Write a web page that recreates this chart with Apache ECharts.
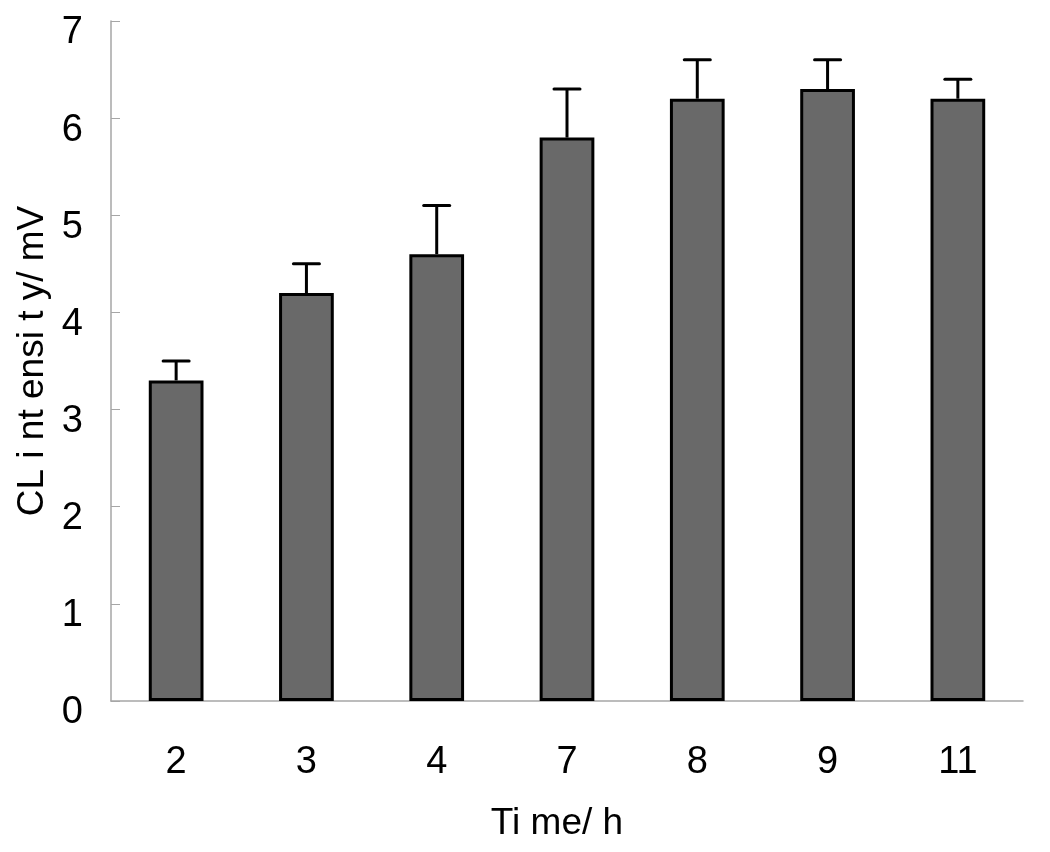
<!DOCTYPE html>
<html>
<head>
<meta charset="utf-8">
<script src="https://cdn.jsdelivr.net/npm/echarts@6/dist/echarts.min.js"></script>
<style>
html,body{margin:0;padding:0;background:#fff;}
#chart{width:1050px;height:852px;}
</style>
</head>
<body>
<div id="chart"></div>
<script>
const categories = ['2', '3', '4', '7', '8', '9', '11'];
const means = [3.3, 4.2, 4.6, 5.8, 6.2, 6.3, 6.2];
const errors = [0.2, 0.3, 0.5, 0.5, 0.4, 0.3, 0.2];
const yTicks = [0, 1, 2, 3, 4, 5, 6, 7];

const errData = categories.map((c, i) => [i, means[i], means[i] + errors[i]]);
const font = '"Liberation Sans", Arial, sans-serif';

const chart = echarts.init(document.getElementById('chart'));
chart.setOption({
  animation: false,
  backgroundColor: '#ffffff',
  grid: { left: 111, top: 21, right: 27, bottom: 151 },
  xAxis: {
    type: 'category',
    data: categories,
    name: 'Ti me/ h',
    nameLocation: 'middle',
    nameGap: 104,
    nameTextStyle: { fontFamily: font, fontSize: 37, color: '#000', padding: [0, 20, 0, 0] },
    axisLine: { lineStyle: { color: '#a6a6a6', width: 1.5 } },
    axisTick: { inside: true, length: 10, lineStyle: { color: '#a6a6a6', width: 1 } },
    axisLabel: { margin: 43, fontFamily: font, fontSize: 38, color: '#000' },
    splitLine: { show: false }
  },
  yAxis: {
    type: 'value',
    min: yTicks[0],
    max: yTicks[yTicks.length - 1],
    interval: 1,
    name: 'CL i nt ensi t y/ mV',
    nameLocation: 'middle',
    nameGap: 58,
    nameRotate: 90,
    nameTextStyle: { fontFamily: font, fontSize: 37, color: '#000' },
    axisLine: { show: true, lineStyle: { color: '#a6a6a6', width: 1.5 } },
    axisTick: { show: true, inside: true, length: 9, lineStyle: { color: '#a6a6a6', width: 1 } },
    axisLabel: { margin: 28, fontFamily: font, fontSize: 38, color: '#000', verticalAlign: 'top', lineHeight: 24 },
    splitLine: { show: false }
  },
  series: [
    {
      type: 'bar',
      data: means,
      barWidth: '42%',
      itemStyle: { color: '#696969', borderColor: '#000', borderWidth: 3 },
      z: 2
    },
    {
      type: 'custom',
      data: errData,
      z: 3,
      renderItem: function (params, api) {
        const x = api.value(0);
        const base = api.coord([x, api.value(1)]);
        const top = api.coord([x, api.value(2)]);
        const half = 13;
        return {
          type: 'group',
          children: [
            { type: 'line', shape: { x1: base[0], y1: base[1], x2: top[0], y2: top[1] },
              style: { stroke: '#000', lineWidth: 3 } },
            { type: 'line', shape: { x1: top[0] - half, y1: top[1], x2: top[0] + half, y2: top[1] },
              style: { stroke: '#000', lineWidth: 3, lineCap: 'round' } }
          ]
        };
      }
    }
  ]
});
</script>
</body>
</html>
